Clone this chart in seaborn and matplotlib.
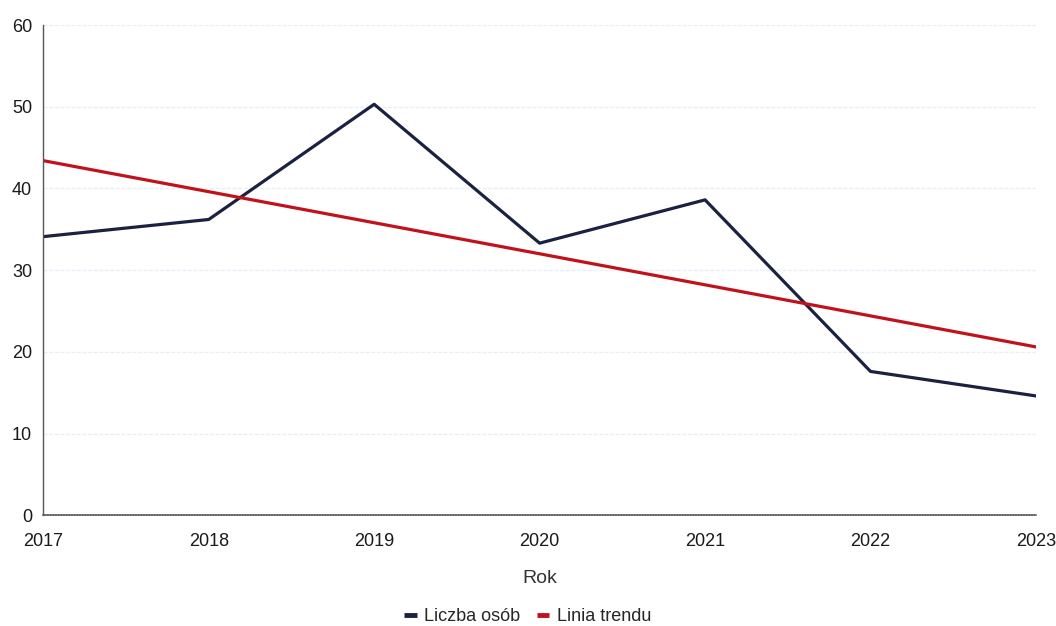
import matplotlib.pyplot as plt
import pandas as pd
import seaborn as sns


years = [2017, 2018, 2019, 2020, 2021, 2022, 2023]
liczba_osob = [34.1, 36.2, 50.3, 33.3, 38.6, 17.6, 14.6]
trend_years = [2017, 2023]
trend_values = [43.4, 20.6]
y_ticks = [0, 10, 20, 30, 40, 50, 60]

NAVY = "#1b2241"
RED = "#c1121c"


def main():
    sns.set_theme(style="white")
    plt.rcParams["font.family"] = ["Liberation Sans", "DejaVu Sans"]

    df = pd.DataFrame({"Rok": years, "value": liczba_osob})
    trend = pd.DataFrame({"Rok": trend_years, "value": trend_values})

    fig = plt.figure(figsize=(10.56, 6.26), dpi=100)
    ax = fig.add_axes([0.041, 0.177, 0.940, 0.783])

    sns.lineplot(data=df, x="Rok", y="value", ax=ax, color=NAVY, linewidth=2.3,
                 label="Liczba osób")
    sns.lineplot(data=trend, x="Rok", y="value", ax=ax, color=RED, linewidth=2.3,
                 label="Linia trendu")

    ax.set_xlim(2017, 2023)
    ax.set_ylim(0, 60)
    ax.set_xticks(years)
    ax.set_yticks(y_ticks)
    ax.tick_params(axis="both", labelsize=13, colors="#1a1a1a", length=0)
    ax.tick_params(axis="x", pad=13)
    ax.tick_params(axis="y", pad=8)
    ax.yaxis.grid(True, color="#e8eff8", linewidth=1.0, linestyle=(0, (3, 1)))
    ax.set_axisbelow(True)

    for side in ["top", "right"]:
        ax.spines[side].set_visible(False)
    ax.spines["left"].set_color("#555555")
    ax.spines["left"].set_linewidth(1.0)
    ax.spines["bottom"].set_color("#666666")
    ax.spines["bottom"].set_linewidth(1.2)
    ax.spines["bottom"].set_linestyle((0, (1, 0.6)))

    ax.set_xlabel("Rok", fontsize=14, color="#333333", labelpad=14)
    ax.set_ylabel("")

    leg = ax.legend(loc="upper center", bbox_to_anchor=(0.488, -0.156), ncol=2,
                    frameon=False, fontsize=13, handlelength=0.7,
                    handletextpad=0.4, columnspacing=0.9)
    for line in leg.get_lines():
        line.set_linewidth(3.5)
        line.set_solid_capstyle("butt")

    fig.savefig("out.png", dpi=100)
    plt.close(fig)


if __name__ == "__main__":
    main()
